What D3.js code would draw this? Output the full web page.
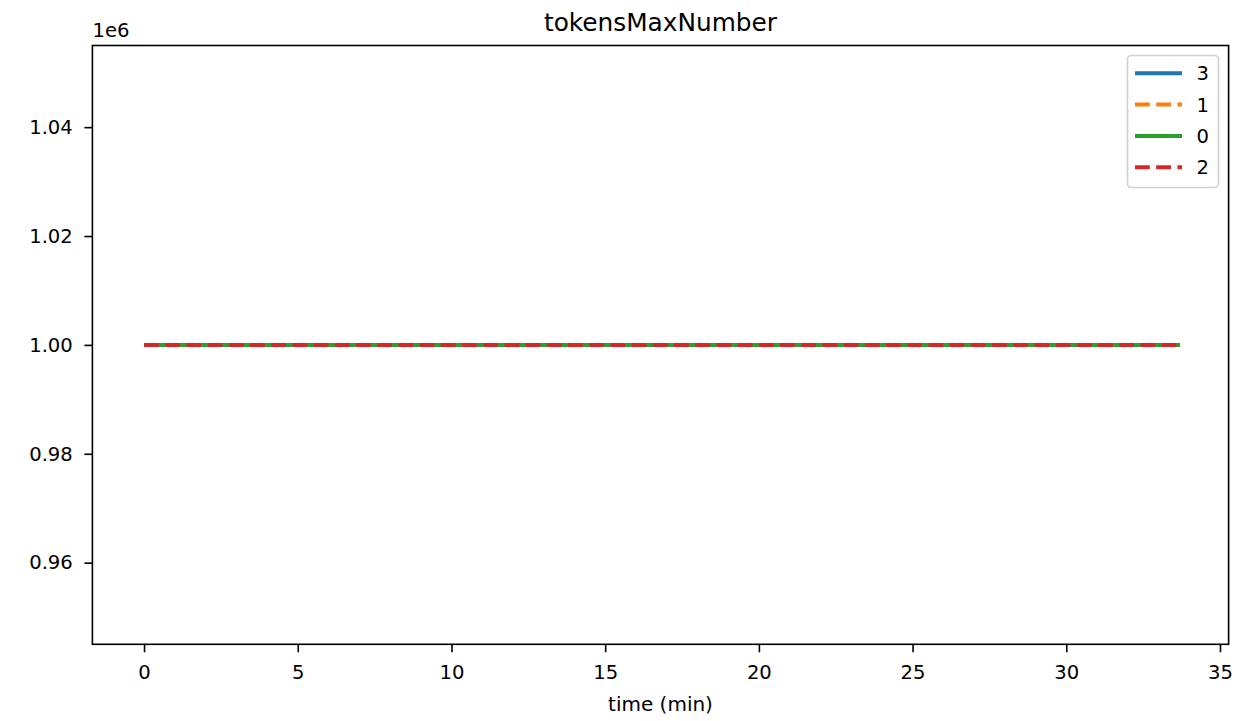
<!DOCTYPE html>
<html>
<head>
<meta charset="utf-8">
<script src="https://cdn.jsdelivr.net/npm/d3@7"></script>
<style>
  body { margin: 0; background: #fff; }
  svg { display: block; font-family: "DejaVu Sans", sans-serif; }
</style>
</head>
<body>
<svg id="chart" width="1252" height="721"></svg>
<script>
// Data
const seriesNames = ["3", "1", "0", "2"];
const times = [0, 33.7];
const values3 = [1000000, 1000000];
const values1 = [1000000, 1000000];
const values0 = [1000000, 1000000];
const values2 = [1000000, 1000000];
const xTicks = [0, 5, 10, 15, 20, 25, 30, 35];
const yTicks = [960000, 980000, 1000000, 1020000, 1040000];
const titleText = "tokensMaxNumber";
const xLabel = "time (min)";

const seriesValues = [values3, values1, values0, values2];
const colors = ["#1f77b4", "#ff7f0e", "#2ca02c", "#d62728"];
const dashed = [false, true, false, true];
const dashPattern = "14.8,6.4";

const svg = d3.select("#chart");
const m = { left: 92.4, top: 45.5, right: 1228.6, bottom: 644.3 };

const x = d3.scaleLinear().domain([-1.68, 35.28]).range([m.left, m.right]);
const y = d3.scaleLinear().domain([945000, 1055000]).range([m.bottom, m.top]);

// Lines
const line = d3.line().x(d => x(d[0])).y(d => y(d[1]));
seriesValues.forEach((vals, i) => {
  const pts = times.map((t, j) => [t, vals[j]]);
  svg.append("path")
    .attr("d", line(pts))
    .attr("fill", "none")
    .attr("stroke", colors[i])
    .attr("stroke-width", 4)
    .attr("stroke-dasharray", dashed[i] ? dashPattern : null);
});

// Axes
const xAxis = d3.axisBottom(x).tickValues(xTicks).tickSize(8).tickPadding(12.5).tickFormat(d3.format("d"));
const yAxis = d3.axisLeft(y).tickValues(yTicks).tickSize(8).tickPadding(11.6).tickFormat(d => (d / 1e6).toFixed(2));

const gx = svg.append("g").attr("transform", `translate(0,${m.bottom})`).call(xAxis);
const gy = svg.append("g").attr("transform", `translate(${m.left},0)`).call(yAxis);
[gx, gy].forEach(g => {
  g.select(".domain").remove();
  g.selectAll("line").attr("stroke", "#000").attr("stroke-width", 1.6);
  g.selectAll("text").attr("font-size", 19.6).attr("fill", "#000").attr("font-family", "DejaVu Sans");
});

// Frame
svg.append("rect")
  .attr("x", m.left).attr("y", m.top)
  .attr("width", m.right - m.left).attr("height", m.bottom - m.top)
  .attr("fill", "none").attr("stroke", "#000").attr("stroke-width", 1.6);

// Offset text
svg.append("text").attr("x", 92.5).attr("y", 37.3).attr("font-size", 19.6).text("1e6");

// Title
svg.append("text").attr("x", (m.left + m.right) / 2).attr("y", 31)
  .attr("text-anchor", "middle").attr("font-size", 24.8).text(titleText);

// X label
svg.append("text").attr("x", (m.left + m.right) / 2).attr("y", 711)
  .attr("text-anchor", "middle").attr("font-size", 20).text(xLabel);

// Legend
const lg = svg.append("g");
lg.append("rect").attr("x", 1127.5).attr("y", 55.5).attr("width", 91).attr("height", 132)
  .attr("rx", 4).attr("fill", "#fff").attr("fill-opacity", 0.8)
  .attr("stroke", "#d0d0d0").attr("stroke-width", 1.6);
seriesNames.forEach((name, i) => {
  const yy = 73.3 + i * 31.3;
  lg.append("line").attr("x1", 1135).attr("x2", 1182).attr("y1", yy).attr("y2", yy)
    .attr("stroke", colors[i]).attr("stroke-width", 4)
    .attr("stroke-dasharray", dashed[i] ? dashPattern : null);
  lg.append("text").attr("x", 1196.5).attr("y", yy + 7).attr("font-size", 19.6).text(name);
});
</script>
</body>
</html>
